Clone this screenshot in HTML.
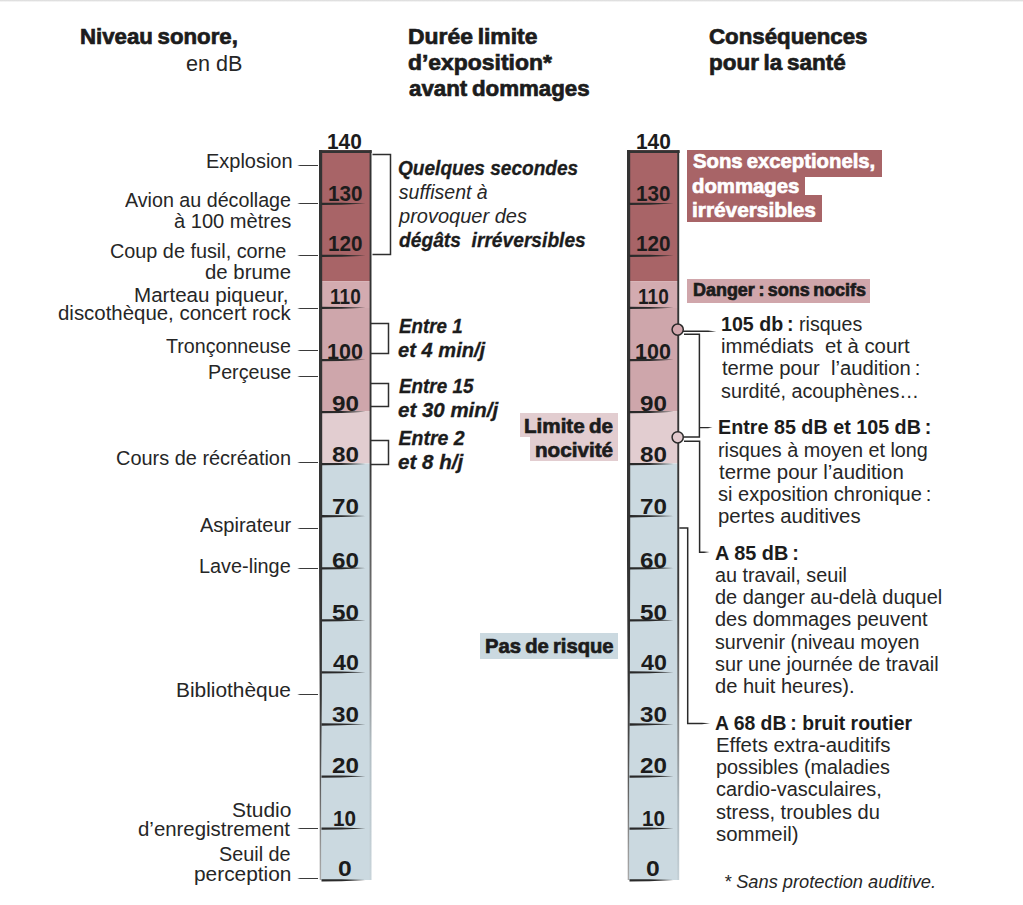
<!DOCTYPE html>
<html><head><meta charset="utf-8">
<style>
html,body{margin:0;padding:0;background:#fff;}
body{width:1023px;height:905px;position:relative;overflow:hidden;font-family:"Liberation Sans",Arial,sans-serif;}
.t{position:absolute;white-space:nowrap;line-height:1;transform-origin:0 0;color:#262626;}
.rg{font-weight:400;}
.rg b{font-weight:700;color:#1c1c1c;}
.hv{font-weight:700;color:#1c1c1c;-webkit-text-stroke:0.7px currentColor;word-spacing:-1.5px;}
.it{font-style:italic;font-weight:400;}
.bi{font-style:italic;font-weight:700;color:#1c1c1c;-webkit-text-stroke:0.3px currentColor;}
.num{font-weight:700;color:#1c1c1c;}
.topline{position:absolute;left:0;top:0;width:1023px;height:2px;background:linear-gradient(#dddddd 0,#e2e2e2 1px,#f6f6f6 1.6px,#fff 2px);}
</style></head>
<body>
<div class="topline"></div>
<svg style="position:absolute;left:0;top:0" width="1023" height="905" viewBox="0 0 1023 905">
<defs>
<linearGradient id="lb" x1="0" y1="150" x2="0" y2="880" gradientUnits="userSpaceOnUse">
<stop offset="0" stop-color="#333"/><stop offset="0.74" stop-color="#333"/><stop offset="0.863" stop-color="#5a5a5a"/><stop offset="0.959" stop-color="#999"/><stop offset="1" stop-color="#aaa"/></linearGradient>
<linearGradient id="rb" x1="0" y1="150" x2="0" y2="880" gradientUnits="userSpaceOnUse">
<stop offset="0" stop-color="#333"/><stop offset="0.41" stop-color="#333"/><stop offset="0.52" stop-color="#555"/><stop offset="0.71" stop-color="#888"/><stop offset="0.82" stop-color="#b3bfc5"/><stop offset="1" stop-color="#c8d4da"/></linearGradient>
<linearGradient id="rb2" x1="0" y1="150" x2="0" y2="880" gradientUnits="userSpaceOnUse">
<stop offset="0" stop-color="#333"/><stop offset="0.6" stop-color="#383838"/><stop offset="0.753" stop-color="#777"/><stop offset="0.89" stop-color="#a9b4ba"/><stop offset="1" stop-color="#c4d0d6"/></linearGradient>
</defs>
<rect x="320" y="150" width="50.5" height="131.2" fill="#a86467"/>
<rect x="320" y="281.2" width="50.5" height="26.80000000000001" fill="#d3abb0"/>
<rect x="320" y="308" width="50.5" height="103.5" fill="#cea6ab"/>
<rect x="320" y="411.5" width="50.5" height="52.0" fill="#e2cdd0"/>
<rect x="320" y="463.5" width="50.5" height="416.5" fill="#cbd9e0"/>
<rect x="319" y="150.2" width="52.7" height="2.8" fill="#333"/>
<path d="M319 150 L322.2 150 L322.2 560 L321.8 700 L321.1 780 L321.1 880 L319.7 880 L319.7 700 L319 560 Z" fill="url(#lb)"/>
<rect x="369.6" y="150" width="1.9" height="730" fill="url(#rb)"/>
<path d="M321.5 202.67 L341.5 202.77 L365.5 203.57 L341.5 204.67 L321.5 204.97 Z" fill="#2a2a2a"/>
<path d="M321.5 254.74 L341.5 254.84 L365.5 255.64 L341.5 256.74 L321.5 257.04 Z" fill="#2a2a2a"/>
<path d="M321.5 306.81 L341.5 306.91 L365.5 307.71 L341.5 308.81 L321.5 309.11 Z" fill="#2a2a2a"/>
<path d="M321.5 358.88 L341.5 358.98 L365.5 359.78 L341.5 360.88 L321.5 361.18 Z" fill="#2a2a2a"/>
<path d="M321.5 410.95 L341.5 411.05 L365.5 411.85 L341.5 412.95 L321.5 413.25 Z" fill="#2a2a2a"/>
<path d="M321.5 463.02 L341.5 463.12 L365.5 463.92 L341.5 465.02 L321.5 465.32 Z" fill="#2a2a2a"/>
<path d="M321.5 515.09 L341.5 515.19 L365.5 515.99 L341.5 517.09 L321.5 517.39 Z" fill="#2a2a2a"/>
<path d="M321.5 567.16 L341.5 567.26 L365.5 568.06 L341.5 569.16 L321.5 569.46 Z" fill="#2a2a2a"/>
<path d="M321.5 619.23 L341.5 619.33 L365.5 620.13 L341.5 621.23 L321.5 621.53 Z" fill="#2a2a2a"/>
<path d="M321.5 671.30 L341.5 671.40 L365.5 672.20 L341.5 673.30 L321.5 673.60 Z" fill="#2a2a2a"/>
<path d="M321.5 723.37 L341.5 723.47 L365.5 724.27 L341.5 725.37 L321.5 725.67 Z" fill="#2a2a2a"/>
<path d="M321.5 775.44 L341.5 775.54 L365.5 776.34 L341.5 777.44 L321.5 777.74 Z" fill="#2a2a2a"/>
<path d="M321.5 827.51 L341.5 827.61 L365.5 828.41 L341.5 829.51 L321.5 829.81 Z" fill="#2a2a2a"/>
<path d="M321.5 879.20 L341.5 879.30 L365.5 880.10 L341.5 881.20 L321.5 881.50 Z" fill="#2a2a2a"/>
<rect x="628" y="150" width="50.5" height="131.2" fill="#a86467"/>
<rect x="628" y="281.2" width="50.5" height="26.80000000000001" fill="#d3abb0"/>
<rect x="628" y="308" width="50.5" height="103.5" fill="#cea6ab"/>
<rect x="628" y="411.5" width="50.5" height="52.0" fill="#e2cdd0"/>
<rect x="628" y="463.5" width="50.5" height="416.5" fill="#cbd9e0"/>
<rect x="627" y="150.2" width="52.7" height="2.8" fill="#333"/>
<path d="M627 150 L630.2 150 L630.2 560 L629.8 700 L629.1 780 L629.1 880 L627.7 880 L627.7 700 L627 560 Z" fill="url(#lb)"/>
<rect x="677.3" y="150" width="1.9" height="730" fill="url(#rb2)"/>
<path d="M629.5 202.67 L649.5 202.77 L673.5 203.57 L649.5 204.67 L629.5 204.97 Z" fill="#2a2a2a"/>
<path d="M629.5 254.74 L649.5 254.84 L673.5 255.64 L649.5 256.74 L629.5 257.04 Z" fill="#2a2a2a"/>
<path d="M629.5 306.81 L649.5 306.91 L673.5 307.71 L649.5 308.81 L629.5 309.11 Z" fill="#2a2a2a"/>
<path d="M629.5 358.88 L649.5 358.98 L673.5 359.78 L649.5 360.88 L629.5 361.18 Z" fill="#2a2a2a"/>
<path d="M629.5 410.95 L649.5 411.05 L673.5 411.85 L649.5 412.95 L629.5 413.25 Z" fill="#2a2a2a"/>
<path d="M629.5 463.02 L649.5 463.12 L673.5 463.92 L649.5 465.02 L629.5 465.32 Z" fill="#2a2a2a"/>
<path d="M629.5 515.09 L649.5 515.19 L673.5 515.99 L649.5 517.09 L629.5 517.39 Z" fill="#2a2a2a"/>
<path d="M629.5 567.16 L649.5 567.26 L673.5 568.06 L649.5 569.16 L629.5 569.46 Z" fill="#2a2a2a"/>
<path d="M629.5 619.23 L649.5 619.33 L673.5 620.13 L649.5 621.23 L629.5 621.53 Z" fill="#2a2a2a"/>
<path d="M629.5 671.30 L649.5 671.40 L673.5 672.20 L649.5 673.30 L629.5 673.60 Z" fill="#2a2a2a"/>
<path d="M629.5 723.37 L649.5 723.47 L673.5 724.27 L649.5 725.37 L629.5 725.67 Z" fill="#2a2a2a"/>
<path d="M629.5 775.44 L649.5 775.54 L673.5 776.34 L649.5 777.44 L629.5 777.74 Z" fill="#2a2a2a"/>
<path d="M629.5 827.51 L649.5 827.61 L673.5 828.41 L649.5 829.51 L629.5 829.81 Z" fill="#2a2a2a"/>
<path d="M629.5 879.20 L649.5 879.30 L673.5 880.10 L649.5 881.20 L629.5 881.50 Z" fill="#2a2a2a"/>
<path d="M297.2 165.50 L300 164.90 L318 164.90 L318 166.10 L300 166.10 Z" fill="#3a3a3a"/>
<path d="M297.2 203.50 L300 202.90 L318 202.90 L318 204.10 L300 204.10 Z" fill="#3a3a3a"/>
<path d="M297.2 255.50 L300 254.90 L318 254.90 L318 256.10 L300 256.10 Z" fill="#3a3a3a"/>
<path d="M297.2 308.50 L300 307.90 L318 307.90 L318 309.10 L300 309.10 Z" fill="#3a3a3a"/>
<path d="M297.2 350.50 L300 349.90 L318 349.90 L318 351.10 L300 351.10 Z" fill="#3a3a3a"/>
<path d="M297.2 376.50 L300 375.90 L318 375.90 L318 377.10 L300 377.10 Z" fill="#3a3a3a"/>
<path d="M297.2 462.50 L300 461.90 L318 461.90 L318 463.10 L300 463.10 Z" fill="#3a3a3a"/>
<path d="M297.2 528.50 L300 527.90 L318 527.90 L318 529.10 L300 529.10 Z" fill="#3a3a3a"/>
<path d="M297.2 568.50 L300 567.90 L318 567.90 L318 569.10 L300 569.10 Z" fill="#3a3a3a"/>
<path d="M297.2 694.50 L300 693.90 L318 693.90 L318 695.10 L300 695.10 Z" fill="#3a3a3a"/>
<path d="M297.2 828.50 L300 827.90 L318 827.90 L318 829.10 L300 829.10 Z" fill="#3a3a3a"/>
<path d="M297.2 878.50 L300 877.90 L318 877.90 L318 879.10 L300 879.10 Z" fill="#3a3a3a"/>
<path d="M372.5 154.5 H390.5 V254.5 H372.5" stroke="#2e2e2e" stroke-width="1.5" fill="none"/>
<path d="M370.5 323.5 H388.5 V353.5 H370.5" stroke="#2e2e2e" stroke-width="1.5" fill="none"/>
<path d="M370.5 383.5 H388.5 V406.5 H370.5" stroke="#2e2e2e" stroke-width="1.5" fill="none"/>
<path d="M370.5 440.5 H388.5 V464.5 H370.5" stroke="#2e2e2e" stroke-width="1.5" fill="none"/>
<path d="M684 334.3 H699.4 V437 H684" stroke="#2a2a2a" stroke-width="1.5" fill="none"/>
<path d="M684 441.3 H699.6 V552.3 H704" stroke="#2a2a2a" stroke-width="1.5" fill="none"/>
<path d="M704 551.6 L709.5 552.1 L704 553 Z" fill="#2a2a2a"/>
<path d="M679.3 527.9 H687.7 V723.5 H702" stroke="#2a2a2a" stroke-width="1.5" fill="none"/>
<path d="M702 722.8 L710 723.3 L702 724.2 Z" fill="#2a2a2a"/>
<path d="M699.4 427 H708 L712.5 427.6 L708 428.3 H699.4 Z" fill="#2a2a2a"/>
<path d="M683 330.6 H708 L716.3 331.4 L708 332.1 H683 Z" fill="#2a2a2a"/>
<circle cx="677.7" cy="329.6" r="5.6" fill="#d2a7ad" stroke="#2a2a2a" stroke-width="1.5"/>
<circle cx="677.7" cy="437.3" r="5.6" fill="#e2cace" stroke="#2a2a2a" stroke-width="1.5"/>
</svg>
<div style="position:absolute;left:520.2px;top:412.7px;width:97.8px;height:24.2px;background:#e2cdd0"></div>
<div style="position:absolute;left:530px;top:436.9px;width:88.0px;height:24.1px;background:#e2cdd0"></div>
<div style="position:absolute;left:480.3px;top:633.3px;width:137.6px;height:25.4px;background:#cbd9e0"></div>
<div style="position:absolute;left:687px;top:150.1px;width:194.6px;height:26.6px;background:#a86467"></div>
<div style="position:absolute;left:687px;top:176.7px;width:118.0px;height:18.3px;background:#a86467"></div>
<div style="position:absolute;left:687px;top:195px;width:135.0px;height:26.5px;background:#a86467"></div>
<div style="position:absolute;left:687.2px;top:279.2px;width:182.8px;height:23.4px;background:#d0a6ab"></div>
<div id="t1" class="t hv" style="top:25.98px;font-size:22px;left:80.00px;transform:scaleX(1.0103);">Niveau sonore,</div>
<div id="t2" class="t rg" style="top:53.08px;font-size:22px;left:186.00px;transform:scaleX(0.9819);">en dB</div>
<div id="t3" class="t hv" style="top:26.08px;font-size:22px;left:408.20px;transform:scaleX(1.0400);">Durée limite</div>
<div id="t4" class="t hv" style="top:52.08px;font-size:22px;left:408.20px;transform:scaleX(1.0411);">d’exposition*</div>
<div id="t5" class="t hv" style="top:78.48px;font-size:22px;left:409.20px;transform:scaleX(1.0133);">avant dommages</div>
<div id="t6" class="t hv" style="top:25.98px;font-size:22px;left:709.40px;transform:scaleX(1.0122);">Conséquences</div>
<div id="t7" class="t hv" style="top:52.38px;font-size:22px;left:709.40px;transform:scaleX(1.0201);">pour la santé</div>
<div id="l1" class="t rg" style="top:151.45px;font-size:20.5px;left:205.60px;transform:scaleX(0.9734);">Explosion</div>
<div id="l2" class="t rg" style="top:190.15px;font-size:20.5px;left:125.00px;transform:scaleX(0.9602);">Avion au décollage</div>
<div id="l3" class="t rg" style="top:210.55px;font-size:20.5px;left:173.80px;transform:scaleX(0.9797);">à 100 mètres</div>
<div id="l4" class="t rg" style="top:241.25px;font-size:20.5px;left:110.40px;transform:scaleX(0.9665);">Coup de fusil, corne</div>
<div id="l5" class="t rg" style="top:262.05px;font-size:20.5px;left:205.00px;transform:scaleX(0.9935);">de brume</div>
<div id="l6" class="t rg" style="top:284.55px;font-size:20.5px;left:133.60px;transform:scaleX(1.0041);">Marteau piqueur,</div>
<div id="l7" class="t rg" style="top:303.15px;font-size:20.5px;left:58.40px;transform:scaleX(0.9957);">discothèque, concert rock</div>
<div id="l8" class="t rg" style="top:336.35px;font-size:20.5px;left:166.20px;transform:scaleX(0.9578);">Tronçonneuse</div>
<div id="l9" class="t rg" style="top:362.15px;font-size:20.5px;left:207.80px;transform:scaleX(0.9616);">Perçeuse</div>
<div id="l10" class="t rg" style="top:448.25px;font-size:20.5px;left:116.00px;transform:scaleX(0.9721);">Cours de récréation</div>
<div id="l11" class="t rg" style="top:514.75px;font-size:20.5px;left:199.80px;transform:scaleX(0.9761);">Aspirateur</div>
<div id="l12" class="t rg" style="top:555.55px;font-size:20.5px;left:199.40px;transform:scaleX(0.9694);">Lave-linge</div>
<div id="l13" class="t rg" style="top:680.35px;font-size:20.5px;left:176.20px;transform:scaleX(1.0181);">Bibliothèque</div>
<div id="l14" class="t rg" style="top:799.95px;font-size:20.5px;left:231.60px;transform:scaleX(1.0226);">Studio</div>
<div id="l15" class="t rg" style="top:819.45px;font-size:20.5px;left:138.00px;transform:scaleX(0.9954);">d’enregistrement</div>
<div id="l16" class="t rg" style="top:844.05px;font-size:20.5px;left:219.40px;transform:scaleX(0.9670);">Seuil de</div>
<div id="l17" class="t rg" style="top:864.15px;font-size:20.5px;left:193.60px;transform:scaleX(1.0180);">perception</div>
<div id="m1" class="t bi" style="top:158.89px;font-size:19.5px;left:397.80px;transform:scaleX(0.9782);">Quelques secondes</div>
<div id="m2" class="t it" style="top:183.19px;font-size:19.5px;left:398.80px;">suffisent à</div>
<div id="m3" class="t it" style="top:207.29px;font-size:19.5px;left:398.80px;transform:scaleX(1.0268);">provoquer des</div>
<div id="m4" class="t bi" style="top:230.89px;font-size:19.5px;left:398.80px;transform:scaleX(0.9848);">dégâts&nbsp; irréversibles</div>
<div id="m5" class="t bi" style="top:317.19px;font-size:19.5px;left:398.60px;transform:scaleX(0.9623);">Entre 1</div>
<div id="m6" class="t bi" style="top:340.69px;font-size:19.5px;left:397.60px;transform:scaleX(1.0316);">et 4 min/j</div>
<div id="m7" class="t bi" style="top:376.69px;font-size:19.5px;left:398.60px;transform:scaleX(0.9669);">Entre 15</div>
<div id="m8" class="t bi" style="top:400.79px;font-size:19.5px;left:397.60px;transform:scaleX(1.0506);">et 30 min/j</div>
<div id="m9" class="t bi" style="top:429.49px;font-size:19.5px;left:398.60px;">Entre 2</div>
<div id="m10" class="t bi" style="top:453.39px;font-size:19.5px;left:397.60px;transform:scaleX(1.0555);">et 8 h/j</div>
<div id="b1" class="t hv" style="top:415.22px;font-size:21px;left:523.80px;transform:scaleX(0.9815);">Limite de</div>
<div id="b2" class="t hv" style="top:439.12px;font-size:21px;left:535.00px;transform:scaleX(0.9830);">nocivité</div>
<div id="b3" class="t hv" style="top:636.25px;font-size:20.5px;left:485.20px;transform:scaleX(0.9870);">Pas de risque</div>
<div id="b4" class="t hv" style="top:151.25px;font-size:20.5px;color:#fff;left:693.20px;transform:scaleX(0.9892);">Sons exceptionels,</div>
<div id="b5" class="t hv" style="top:175.55px;font-size:20.5px;color:#fff;left:692.20px;transform:scaleX(0.9924);">dommages</div>
<div id="b6" class="t hv" style="top:199.75px;font-size:20.5px;color:#fff;left:692.20px;transform:scaleX(1.0153);">irréversibles</div>
<div id="b7" class="t hv" style="top:281.06px;font-size:18px;left:692.80px;transform:scaleX(0.9963);">Danger&#8239;: sons nocifs</div>
<div id="r1" class="t rg" style="top:315.29px;font-size:19.5px;left:721.20px;transform:scaleX(1.0053);"><b>105 db&#8239;:</b> risques</div>
<div id="r2" class="t rg" style="top:336.89px;font-size:19.5px;left:721.20px;transform:scaleX(1.0421);">immédiats&nbsp; et à court</div>
<div id="r3" class="t rg" style="top:359.39px;font-size:19.5px;left:722.20px;transform:scaleX(1.0365);">terme pour&nbsp; l’audition&#8239;:</div>
<div id="r4" class="t rg" style="top:381.79px;font-size:19.5px;left:721.20px;transform:scaleX(1.0151);">surdité, acouphènes…</div>
<div id="r5" class="t rg" style="top:418.39px;font-size:19.5px;left:718.40px;transform:scaleX(1.0121);"><b>Entre 85 dB et 105 dB&#8239;:</b></div>
<div id="r6" class="t rg" style="top:440.59px;font-size:19.5px;left:718.40px;transform:scaleX(1.0134);">risques à moyen et long</div>
<div id="r7" class="t rg" style="top:462.59px;font-size:19.5px;left:719.40px;transform:scaleX(1.0460);">terme pour l’audition</div>
<div id="r8" class="t rg" style="top:484.59px;font-size:19.5px;left:718.40px;transform:scaleX(1.0276);">si exposition chronique&#8239;:</div>
<div id="r9" class="t rg" style="top:506.89px;font-size:19.5px;left:718.40px;transform:scaleX(1.0443);">pertes auditives</div>
<div id="r10" class="t rg" style="top:543.69px;font-size:19.5px;left:715.40px;transform:scaleX(1.0198);"><b>A 85 dB&#8239;:</b></div>
<div id="r11" class="t rg" style="top:566.09px;font-size:19.5px;left:715.40px;transform:scaleX(1.0150);">au travail, seuil</div>
<div id="r12" class="t rg" style="top:588.09px;font-size:19.5px;left:715.40px;transform:scaleX(1.0222);">de danger au-delà duquel</div>
<div id="r13" class="t rg" style="top:610.09px;font-size:19.5px;left:715.40px;transform:scaleX(1.0214);">des dommages peuvent</div>
<div id="r14" class="t rg" style="top:632.59px;font-size:19.5px;left:715.40px;transform:scaleX(1.0085);">survenir (niveau moyen</div>
<div id="r15" class="t rg" style="top:654.59px;font-size:19.5px;left:715.40px;transform:scaleX(1.0162);">sur une journée de travail</div>
<div id="r16" class="t rg" style="top:677.09px;font-size:19.5px;left:715.40px;transform:scaleX(1.0306);">de huit heures).</div>
<div id="r17" class="t rg" style="top:714.09px;font-size:19.5px;left:715.40px;transform:scaleX(0.9940);"><b>A 68 dB&#8239;: bruit routier</b></div>
<div id="r18" class="t rg" style="top:736.09px;font-size:19.5px;left:716.20px;transform:scaleX(1.0472);">Effets extra-auditifs</div>
<div id="r19" class="t rg" style="top:758.09px;font-size:19.5px;left:715.80px;transform:scaleX(1.0150);">possibles (maladies</div>
<div id="r20" class="t rg" style="top:780.09px;font-size:19.5px;left:715.80px;transform:scaleX(1.0201);">cardio-vasculaires,</div>
<div id="r21" class="t rg" style="top:802.59px;font-size:19.5px;left:715.80px;transform:scaleX(1.0282);">stress, troubles du</div>
<div id="r22" class="t rg" style="top:824.59px;font-size:19.5px;left:715.80px;transform:scaleX(1.0426);">sommeil)</div>
<div id="r23" class="t it" style="top:874.19px;font-size:17.5px;left:723.60px;transform:scaleX(1.0429);">* Sans protection auditive.</div>
<div id="nl140" class="t num" style="top:130.58px;font-size:22px;left:327.00px;transform:scaleX(0.9495);">140</div>
<div id="nl130" class="t num" style="top:182.58px;font-size:22px;left:327.60px;transform:scaleX(0.9399);">130</div>
<div id="nl120" class="t num" style="top:233.38px;font-size:22px;left:327.60px;transform:scaleX(0.9399);">120</div>
<div id="nl110" class="t num" style="top:286.38px;font-size:22px;left:329.60px;transform:scaleX(0.8654);">110</div>
<div id="nl100" class="t num" style="top:340.78px;font-size:22px;left:327.20px;transform:scaleX(0.9783);">100</div>
<div id="nl90" class="t num" style="top:393.18px;font-size:22px;left:332.00px;transform:scaleX(1.1016);">90</div>
<div id="nl80" class="t num" style="top:444.38px;font-size:22px;left:332.00px;transform:scaleX(1.1016);">80</div>
<div id="nl70" class="t num" style="top:495.58px;font-size:22px;left:332.00px;transform:scaleX(1.1016);">70</div>
<div id="nl60" class="t num" style="top:549.98px;font-size:22px;left:332.00px;transform:scaleX(1.1016);">60</div>
<div id="nl50" class="t num" style="top:601.98px;font-size:22px;left:332.00px;transform:scaleX(1.1016);">50</div>
<div id="nl40" class="t num" style="top:651.58px;font-size:22px;left:333.00px;transform:scaleX(1.0557);">40</div>
<div id="nl30" class="t num" style="top:704.18px;font-size:22px;left:332.00px;transform:scaleX(1.1016);">30</div>
<div id="nl20" class="t num" style="top:755.38px;font-size:22px;left:332.00px;transform:scaleX(1.1016);">20</div>
<div id="nl10" class="t num" style="top:807.58px;font-size:22px;left:333.40px;transform:scaleX(0.9399);">10</div>
<div id="nl0" class="t num" style="top:857.78px;font-size:22px;left:338.20px;transform:scaleX(1.1217);">0</div>
<div id="nr140" class="t num" style="top:130.58px;font-size:22px;left:636.20px;transform:scaleX(0.9495);">140</div>
<div id="nr130" class="t num" style="top:182.58px;font-size:22px;left:635.80px;transform:scaleX(0.9399);">130</div>
<div id="nr120" class="t num" style="top:233.38px;font-size:22px;left:635.80px;transform:scaleX(0.9399);">120</div>
<div id="nr110" class="t num" style="top:286.38px;font-size:22px;left:637.80px;transform:scaleX(0.8654);">110</div>
<div id="nr100" class="t num" style="top:340.78px;font-size:22px;left:635.40px;transform:scaleX(0.9783);">100</div>
<div id="nr90" class="t num" style="top:393.18px;font-size:22px;left:640.20px;transform:scaleX(1.1016);">90</div>
<div id="nr80" class="t num" style="top:444.38px;font-size:22px;left:640.20px;transform:scaleX(1.1016);">80</div>
<div id="nr70" class="t num" style="top:495.58px;font-size:22px;left:640.20px;transform:scaleX(1.1016);">70</div>
<div id="nr60" class="t num" style="top:549.98px;font-size:22px;left:640.20px;transform:scaleX(1.1016);">60</div>
<div id="nr50" class="t num" style="top:601.98px;font-size:22px;left:640.20px;transform:scaleX(1.1016);">50</div>
<div id="nr40" class="t num" style="top:651.58px;font-size:22px;left:641.20px;transform:scaleX(1.0557);">40</div>
<div id="nr30" class="t num" style="top:704.18px;font-size:22px;left:640.20px;transform:scaleX(1.1016);">30</div>
<div id="nr20" class="t num" style="top:755.38px;font-size:22px;left:640.20px;transform:scaleX(1.1016);">20</div>
<div id="nr10" class="t num" style="top:807.58px;font-size:22px;left:641.60px;transform:scaleX(0.9399);">10</div>
<div id="nr0" class="t num" style="top:857.78px;font-size:22px;left:646.40px;transform:scaleX(1.1217);">0</div>
</body></html>
